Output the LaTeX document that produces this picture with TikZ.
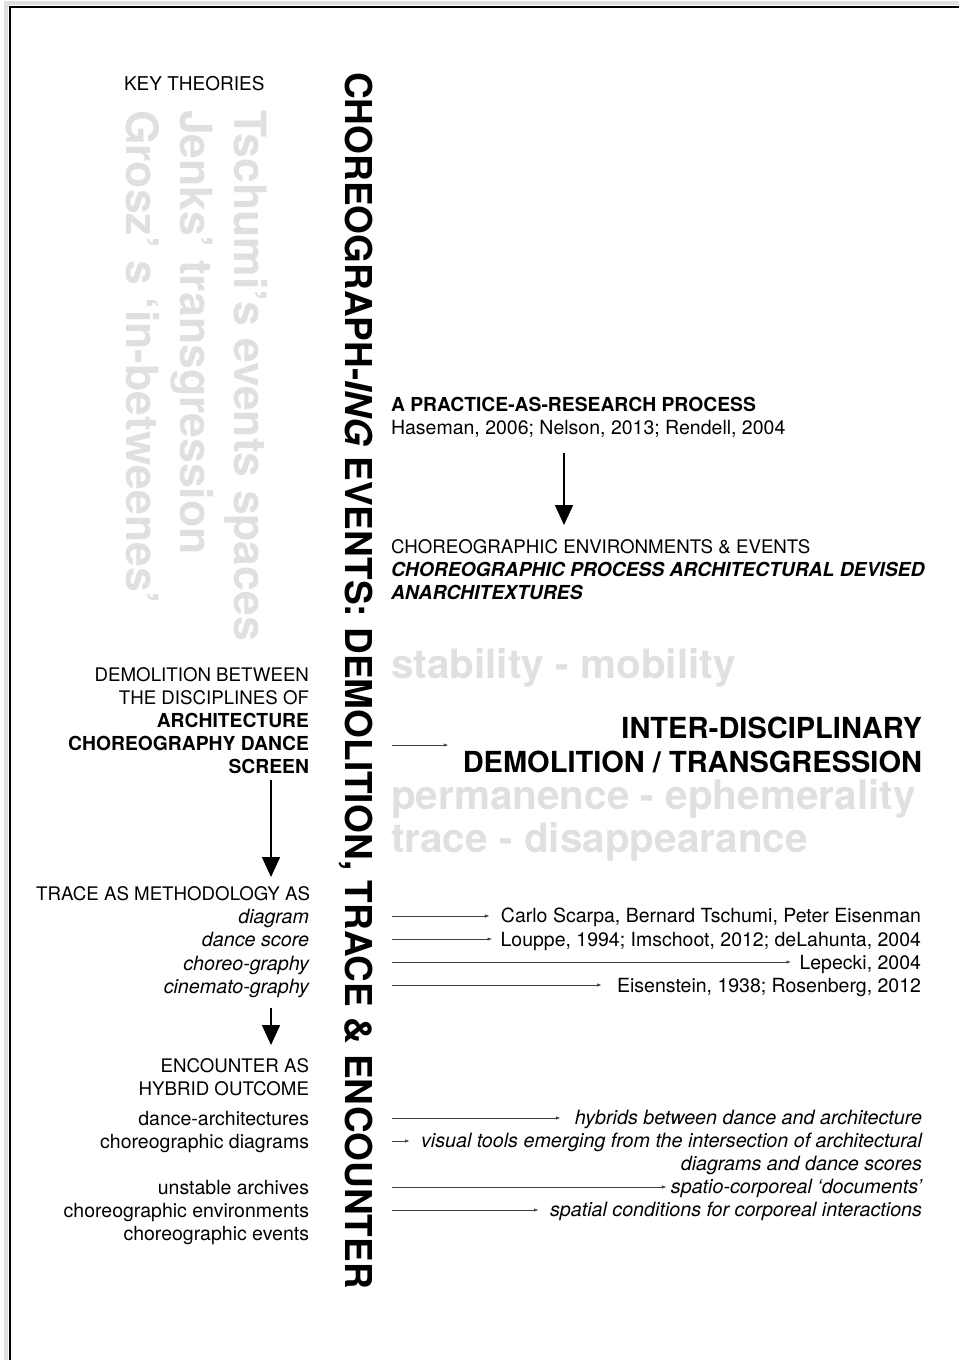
\documentclass[tikz,border=0pt]{standalone}
\usepackage{fontspec}
\setmainfont{TeX Gyre Heros}
\usetikzlibrary{arrows.meta}
\newcommand\sizeR{\fontsize{18.7}{23}\selectfont}
\newcommand\sizeL{\fontsize{19.5}{23}\selectfont}
\newcommand\sizeI{\fontsize{19.7}{23}\selectfont\itshape}
\newcommand\sizeB{\fontsize{19.3}{23}\selectfont\bfseries}
\begin{document}
\begin{tikzpicture}[x=1pt,y=-1pt,
  txt/.style={inner sep=0pt,outer sep=0pt,font=\sizeR},
  rtxt/.style={txt,anchor=base east},
  ltxt/.style={txt,anchor=base west},
  ghost/.style={txt,rotate=-90,anchor=base west,text=black!12,font=\fontsize{44.5}{44.5}\selectfont\bfseries},
  gterm/.style={ltxt,text=black!12,font=\fontsize{40.5}{40.5}\selectfont\bfseries},
  bigterm/.style={rtxt,font=\fontsize{29}{29}\selectfont\bfseries},
  bigarrow/.style={line width=1.6pt,-{Triangle[length=20pt,width=18pt]}},
  thinarrow/.style={line width=0.5pt,black!75,-{Triangle[length=4pt,width=3pt]}}]
\useasboundingbox (0,0) rectangle (959,1360);
% frame
\draw[black!12,line width=4pt] (6,1360) -- (6,3) -- (959,3);
\draw[line width=2.5pt] (10,1360) -- (10,7) -- (959,7);

% key theories
\node[ltxt,font=\fontsize{19}{23}\selectfont] (key) at (124,90) {KEY THEORIES};
\node[ghost] (g1) at (234,110) {Tschumi’s events spaces};
\node[ghost] (g2) at (180,110) {Jenks’ transgression};
\node[ghost] (g3) at (126,110) {Grosz’ s ‘in-betweenes’};

% title
\node[txt,rotate=-90,anchor=base west,font=\fontsize{37}{37}\selectfont\bfseries] (title) at (345,72)
  {CHOREOGRAPH-\textit{ING} EVENTS: DEMOLITION, TRACE \& ENCOUNTER};

% right column top
\node[ltxt,font=\sizeB] (par) at (391,411) {A PRACTICE-AS-RESEARCH PROCESS};
\node[ltxt,font=\sizeL] (has) at (391,434) {Haseman, 2006; Nelson, 2013; Rendell, 2004};
\node[ltxt] (env) at (391,553) {CHOREOGRAPHIC ENVIRONMENTS \& EVENTS};
\node[ltxt,font=\sizeB\itshape] (proc) at (391,576) {CHOREOGRAPHIC PROCESS ARCHITECTURAL DEVISED};
\node[ltxt,font=\sizeB\itshape] (anar) at (391,599) {ANARCHITEXTURES};
\coordinate (a1s) at (564,453);
\draw[bigarrow,shorten >=14pt] (a1s) -- (a1s |- env.north);

% terms
\node[gterm] (stab) at (391,678) {stability - mobility};
\node[bigterm] (inter) at (922,738) {INTER-DISCIPLINARY};
\node[bigterm] (demo) at (922,772) {DEMOLITION / TRANSGRESSION};
\node[gterm] (perm) at (391,809) {permanence - ephemerality};
\node[gterm] (trace) at (391,852) {trace - disappearance};
\coordinate (a2s) at (392,745);
\draw[thinarrow,shorten >=15pt] (a2s) -- (a2s -| demo.west);

% citations
\node[rtxt,font=\sizeL] (c1) at (921,922) {Carlo Scarpa, Bernard Tschumi, Peter Eisenman};
\node[rtxt,font=\sizeL] (c2) at (921,946) {Louppe, 1994; Imschoot, 2012; deLahunta, 2004};
\node[rtxt,font=\sizeL] (c3) at (921,969) {Lepecki, 2004};
\node[rtxt,font=\sizeL] (c4) at (921,992) {Eisenstein, 1938; Rosenberg, 2012};
\coordinate (s1) at (392,916);
\coordinate (s2) at (392,939);
\coordinate (s3) at (392,962);
\coordinate (s4) at (392,985);
\draw[thinarrow,shorten >=12pt] (s1) -- (s1 -| c1.west);
\draw[thinarrow,shorten >=9pt] (s2) -- (s2 -| c2.west);
\draw[thinarrow,shorten >=9pt] (s3) -- (s3 -| c3.west);
\draw[thinarrow,shorten >=16pt] (s4) -- (s4 -| c4.west);

% outcomes
\node[rtxt,font=\sizeI] (h1) at (922,1124) {hybrids between dance and architecture};
\node[rtxt,font=\sizeI] (h2) at (922,1147) {visual tools emerging from the intersection of architectural};
\node[rtxt,font=\sizeI] (h3) at (922,1170) {diagrams and dance scores};
\node[rtxt,font=\sizeI] (h4) at (922,1193) {spatio-corporeal ‘documents’};
\node[rtxt,font=\sizeI] (h5) at (922,1216) {spatial conditions for corporeal interactions};
\coordinate (t1) at (392,1118);
\coordinate (t2) at (392,1141);
\coordinate (t4) at (392,1187);
\coordinate (t5) at (392,1210);
\draw[thinarrow,shorten >=15pt] (t1) -- (t1 -| h1.west);
\draw[thinarrow,shorten >=12pt] (t2) -- (t2 -| h2.west);
\draw[thinarrow,shorten >=5pt] (t4) -- (t4 -| h4.west);
\draw[thinarrow,shorten >=12pt] (t5) -- (t5 -| h5.west);

% left column
\node[rtxt] (d1) at (309,681) {DEMOLITION BETWEEN};
\node[rtxt] (d2) at (309,704) {THE DISCIPLINES OF};
\node[rtxt,font=\sizeB] (d3) at (309,727) {ARCHITECTURE};
\node[rtxt,font=\sizeB] (d4) at (309,750) {CHOREOGRAPHY DANCE};
\node[rtxt,font=\sizeB] (d5) at (309,773) {SCREEN};
\node[rtxt] (tr) at (310,900) {TRACE AS METHODOLOGY AS};
\node[rtxt,font=\sizeI] (m1) at (309,923) {diagram};
\node[rtxt,font=\sizeI] (m2) at (309,946) {dance score};
\node[rtxt,font=\sizeI] (m3) at (309,970) {choreo-graphy};
\node[rtxt,font=\sizeI] (m4) at (309,993) {cinemato-graphy};
\node[rtxt] (e1) at (309,1072) {ENCOUNTER AS};
\node[rtxt] (e2) at (309,1095) {HYBRID OUTCOME};
\node[rtxt,font=\sizeL] (o1) at (309,1125) {dance-architectures};
\node[rtxt,font=\sizeL] (o2) at (309,1148) {choreographic diagrams};
\node[rtxt,font=\sizeL] (o3) at (309,1194) {unstable archives};
\node[rtxt,font=\sizeL] (o4) at (309,1217) {choreographic environments};
\node[rtxt,font=\sizeL] (o5) at (309,1240) {choreographic events};
\coordinate (a3s) at (271,780);
\coordinate (a4s) at (271,1008);
\draw[bigarrow,shorten >=9pt] (a3s) -- (a3s |- tr.north);
\draw[bigarrow,shorten >=13pt] (a4s) -- (a4s |- e1.north);
\end{tikzpicture}
\end{document}
